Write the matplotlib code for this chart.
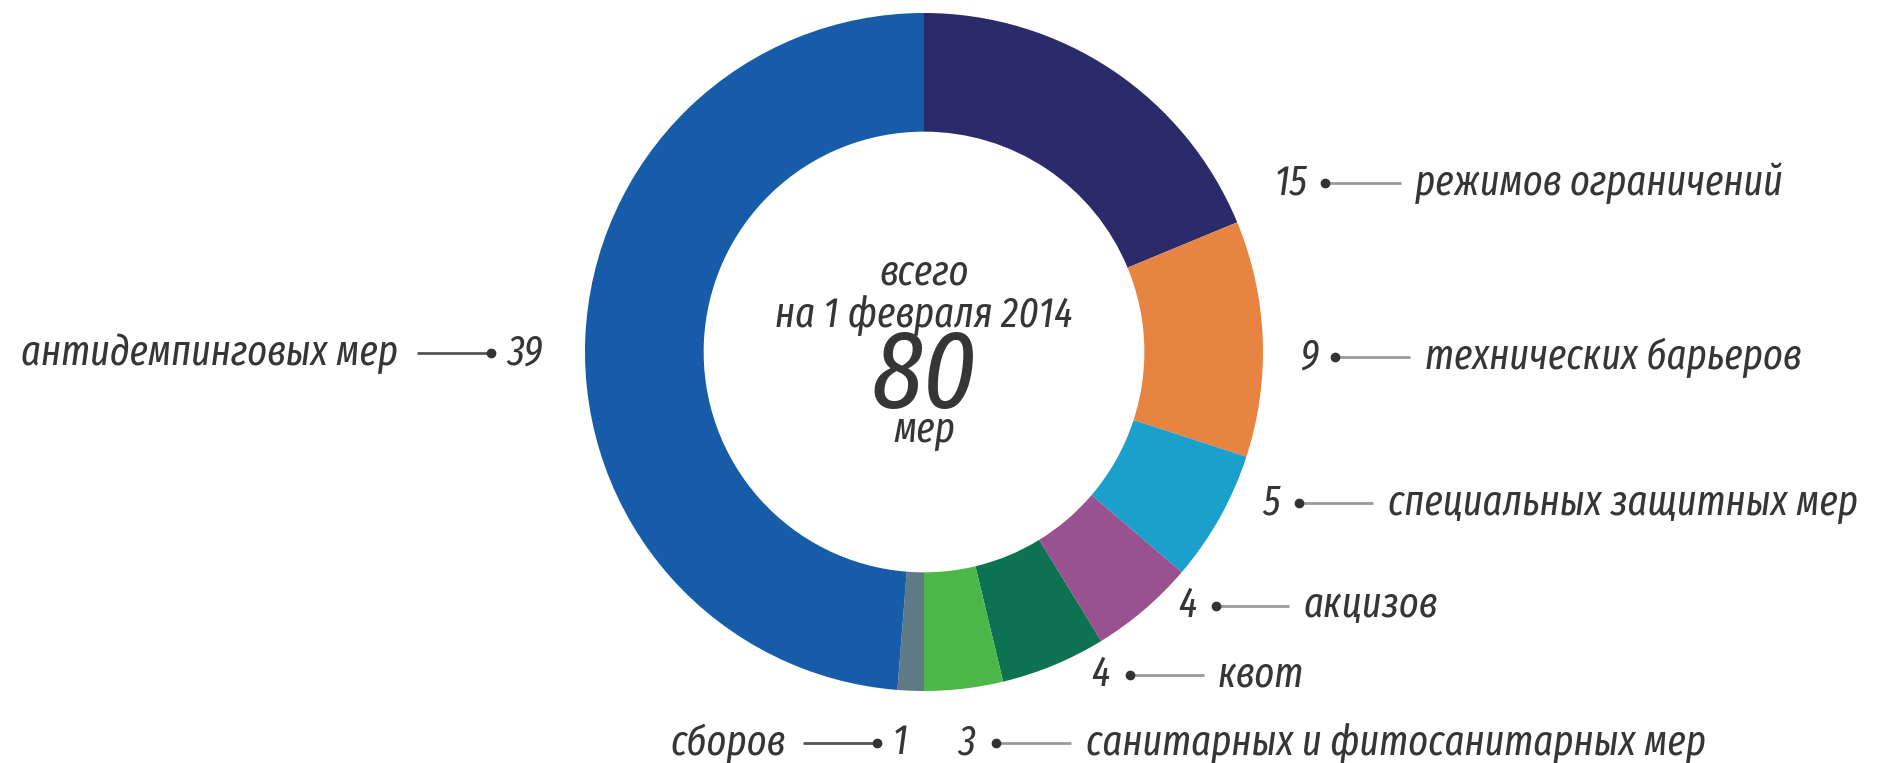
import matplotlib
matplotlib.use("Agg")
import matplotlib.pyplot as plt

# data (clockwise from 12 o'clock)
labels = ["режимов ограничений", "технических барьеров", "специальных защитных мер",
          "акцизов", "квот", "санитарных и фитосанитарных мер", "сборов",
          "антидемпинговых мер"]
counts = [15, 9, 5, 4, 4, 3, 1, 39]
colors = ["#2B2A6B", "#E88441", "#1B9FCB", "#98528F", "#0C7252", "#4BB748",
          "#5E7A86", "#165CA8"]
center_lines = ["всего", "на 1 февраля 2014", "80", "мер"]

W, H = 1877, 763
FONT = ["Fira Sans Extra Condensed", "DejaVu Sans"]
TXT = "#363636"
LINE = "#9a9a9a"
FS = 30


def Y(y):
    # pixel row (from top) -> data y
    return H - y


fig = plt.figure(figsize=(W / 100, H / 100), dpi=100)
ax = fig.add_axes([0, 0, 1, 1])

cx, cy, R = 924, 352, 339
ax.pie(counts, colors=colors, startangle=90, counterclock=False,
       center=(cx, Y(cy)), radius=R, frame=True,
       wedgeprops=dict(width=R * 0.35, linewidth=0))
ax.set_xlim(0, W)
ax.set_ylim(0, H)
ax.set_aspect("equal")
ax.axis("off")

# centre text
for txt, yy, fs in zip(center_lines, [273, 315, 378, 430], [30, 30, 80, 30]):
    ax.text(cx, Y(yy), txt, ha="center", va="center", fontsize=fs,
            style="italic", family=FONT, color=TXT)


def right_label(i, num_right, dot_x, line_end, text_x, y):
    ax.text(num_right, Y(y), str(counts[i]), ha="right", va="center",
            fontsize=FS, style="italic", family=FONT, color=TXT)
    ax.plot([dot_x, line_end], [Y(y), Y(y)], color=LINE, lw=2,
            solid_capstyle="butt")
    ax.plot([dot_x], [Y(y)], "o", color="#333333", ms=6)
    ax.text(text_x, Y(y), labels[i], ha="left", va="center", fontsize=FS,
            style="italic", family=FONT, color=TXT)


def left_label(i, text_right, line_start, dot_x, num_left, y):
    ax.text(text_right, Y(y), labels[i], ha="right", va="center",
            fontsize=FS, style="italic", family=FONT, color=TXT)
    ax.plot([line_start, dot_x], [Y(y), Y(y)], color="#555555", lw=2,
            solid_capstyle="butt")
    ax.plot([dot_x], [Y(y)], "o", color="#333333", ms=6)
    ax.text(num_left, Y(y), str(counts[i]), ha="left", va="center",
            fontsize=FS, style="italic", family=FONT, color=TXT)


right_label(0, 1308, 1325, 1401, 1415, 183)
right_label(1, 1318, 1335, 1410, 1425, 357)
right_label(2, 1280, 1299, 1373, 1388, 503)
right_label(3, 1197, 1216, 1289, 1304, 606)
right_label(4, 1110, 1130, 1204, 1218, 675)
right_label(5, 976, 996, 1071, 1086, 743)
left_label(6, 786, 803, 877, 893, 743)
left_label(7, 398, 417, 491, 507, 353)

fig.savefig("out.png", dpi=100, facecolor="white")
